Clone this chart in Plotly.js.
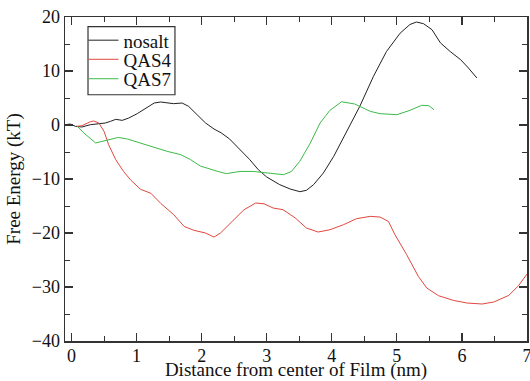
<!DOCTYPE html>
<html>
<head>
<meta charset="utf-8">
<script src="https://cdn.plot.ly/plotly-3.0.1.min.js"></script>
<style>html,body{margin:0;padding:0;background:#fff;}#chart{width:530px;height:381px;}</style>
</head>
<body>
<div id="chart"></div>
<script>
const nosaltX = [-0.09, -0.02, 0.06, 0.16, 0.29, 0.39, 0.52, 0.60, 0.68, 0.78, 0.88, 1.01, 1.14, 1.27, 1.37, 1.47, 1.57, 1.70, 1.80, 1.93, 2.06, 2.19, 2.30, 2.43, 2.59, 2.74, 2.87, 3.00, 3.20, 3.36, 3.51, 3.61, 3.72, 3.87, 4.03, 4.23, 4.43, 4.64, 4.84, 5.05, 5.20, 5.30, 5.41, 5.54, 5.67, 5.82, 5.98, 6.10, 6.23];
const nosaltY = [0.06, 0.18, -0.25, -0.37, 0.06, 0.25, 0.37, 0.68, 1.05, 0.86, 1.29, 2.1, 3.15, 4.07, 4.26, 4.07, 3.95, 4.07, 3.45, 1.91, 0.37, -0.74, -1.45, -2.6, -4.57, -6.42, -8.27, -9.63, -11.05, -11.85, -12.35, -12.1, -11.05, -8.9, -5.8, -1.2, 3.45, 9.0, 13.6, 17.0, 18.6, 19.07, 18.76, 17.65, 15.2, 13.6, 12.1, 10.55, 8.7];

const qas4X = [0.08, 0.16, 0.29, 0.34, 0.42, 0.50, 0.57, 0.68, 0.80, 0.91, 1.06, 1.22, 1.37, 1.47, 1.57, 1.73, 1.88, 2.06, 2.19, 2.29, 2.45, 2.65, 2.83, 2.96, 3.10, 3.25, 3.44, 3.61, 3.79, 3.97, 4.18, 4.38, 4.59, 4.74, 4.87, 4.97, 5.15, 5.33, 5.46, 5.64, 5.87, 6.08, 6.31, 6.49, 6.72, 6.87, 7.0];
const qas4Y = [-0.25, -0.13, 0.61, 0.74, 0.37, -1.17, -3.64, -6.42, -8.6, -10.2, -11.9, -12.65, -14.5, -15.6, -16.6, -18.77, -19.5, -20.0, -20.75, -20.0, -18.16, -15.7, -14.45, -14.6, -15.38, -15.68, -17.23, -19.08, -19.82, -19.4, -18.46, -17.35, -16.92, -17.04, -17.85, -20.3, -24.0, -28.03, -30.19, -31.61, -32.48, -32.97, -33.15, -32.78, -31.55, -29.76, -27.6];

const qas7X = [0.08, 0.19, 0.37, 0.52, 0.72, 0.86, 1.06, 1.32, 1.47, 1.68, 1.83, 1.98, 2.11, 2.25, 2.38, 2.59, 2.79, 3.00, 3.26, 3.38, 3.51, 3.67, 3.82, 3.97, 4.15, 4.35, 4.59, 4.74, 5.00, 5.20, 5.38, 5.49, 5.57];
const qas7Y = [-0.13, -1.48, -3.33, -2.85, -2.3, -2.6, -3.33, -4.26, -4.88, -5.5, -6.42, -7.6, -8.15, -8.6, -9.0, -8.6, -8.6, -8.9, -9.2, -8.6, -6.7, -3.33, 0.37, 2.7, 4.3, 3.9, 2.53, 2.1, 1.91, 2.71, 3.64, 3.58, 2.84];

const seriesNames = ["nosalt", "QAS4", "QAS7"];
const xTitle = "Distance from center of Film (nm)";
const yTitle = "Free Energy (kT)";

const font = "Liberation Serif";
const traces = [
  {x: nosaltX, y: nosaltY, name: seriesNames[0], mode: "lines", line: {color: "#222222", width: 1}, legend: "legend"},
  {x: qas4X, y: qas4Y, name: seriesNames[1], mode: "lines", line: {color: "#e0483e", width: 1}, legend: "legend2"},
  {x: qas7X, y: qas7Y, name: seriesNames[2], mode: "lines", line: {color: "#3dbb4a", width: 1}, legend: "legend3"}
];

const axisCommon = {
  showgrid: false, zeroline: false, showline: true, linecolor: "#333", linewidth: 1.5,
  mirror: "allticks", ticks: "inside", ticklen: 8, tickwidth: 1.2, tickcolor: "#333",
  ticklabeloverflow: "allow",
  tickfont: {family: font, size: 18, color: "#111"}
};

function legendAt(y) {
  return {
    x: 0.040, y: y, xanchor: "left", yanchor: "middle",
    bgcolor: "rgba(0,0,0,0)", borderwidth: 0,
    font: {family: font, size: 19, color: "#111"},
    itemwidth: 30
  };
}

const layout = {
  width: 530, height: 381,
  margin: {l: 65, r: 3, t: 17, b: 40},
  paper_bgcolor: "#fff", plot_bgcolor: "#fff",
  font: {family: font, color: "#111"},
  showlegend: true,
  legend: legendAt(0.928),
  legend2: legendAt(0.869),
  legend3: legendAt(0.809),
  shapes: [{
    type: "rect", xref: "paper", yref: "paper",
    x0: 0.0498, x1: 0.238, y0: 0.760, y1: 0.970,
    line: {color: "#333", width: 1.2}, fillcolor: "#fff", layer: "below"
  }],
  xaxis: Object.assign({}, axisCommon, {
    range: [-0.1, 7], dtick: 1, tick0: 0, ticklabelstandoff: -2,
    minor: {ticks: "inside", ticklen: 5, dtick: 0.5, tickcolor: "#333", tickwidth: 1},
    title: {text: xTitle, font: {family: font, size: 19, color: "#111"}, standoff: 12}
  }),
  yaxis: Object.assign({}, axisCommon, {
    range: [-40, 20], dtick: 10, tick0: 0,
    minor: {ticks: "inside", ticklen: 5, dtick: 5, tickcolor: "#333", tickwidth: 1},
    title: {text: yTitle, font: {family: font, size: 19, color: "#111"}, standoff: 6}
  })
};

Plotly.newPlot("chart", traces, layout, {staticPlot: true, displayModeBar: false});
</script>
</body>
</html>
